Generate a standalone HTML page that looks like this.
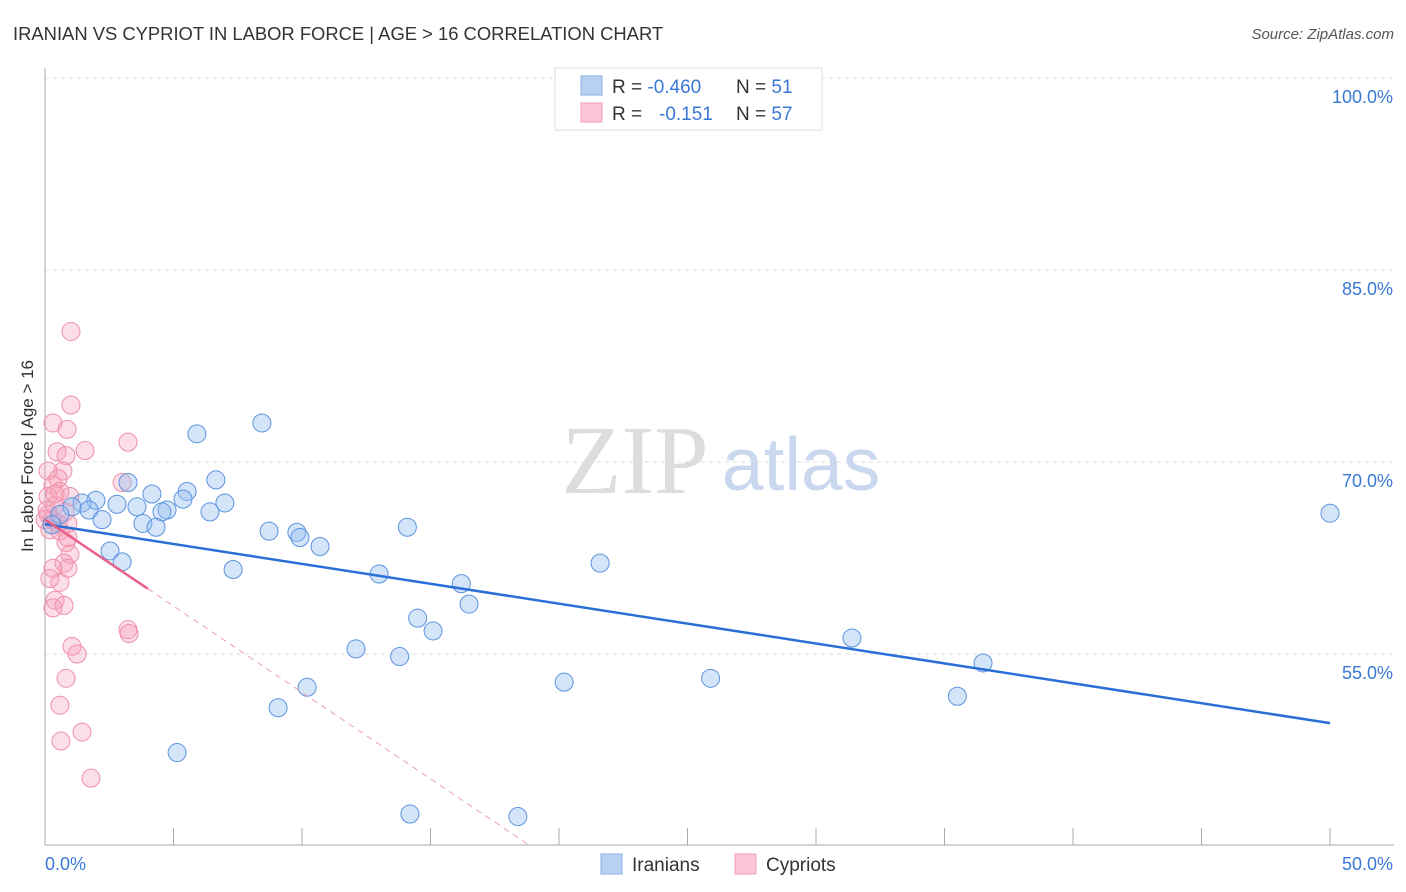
<!DOCTYPE html>
<html><head><meta charset="utf-8"><style>
body{margin:0;background:#fff;font-family:"Liberation Sans",sans-serif}
svg{display:block}
</style></head><body>
<svg id="c" width="1406" height="892">
<text x="13" y="40" font-size="18.4" fill="#333">IRANIAN VS CYPRIOT IN LABOR FORCE | AGE &gt; 16 CORRELATION CHART</text>
<text x="1394" y="39" font-size="15" fill="#555" font-style="italic" text-anchor="end">Source: ZipAtlas.com</text>
<text x="33" y="456" font-size="17" fill="#333" transform="rotate(-90 33 456)" text-anchor="middle">In Labor Force | Age &gt; 16</text>
<text x="635" y="493" font-size="98" fill="#ddd" font-family="Liberation Serif,serif" text-anchor="middle">ZIP</text>
<text x="801" y="490" font-size="75" fill="#c9d8ee" text-anchor="middle">atlas</text>
<g id="grid"></g><g id="pts"></g><g id="lines"></g>
<g>
<rect x="555" y="68" width="267" height="62" fill="#fff" stroke="#ddd"/>
<rect x="581" y="76" width="21" height="19" fill="#b8d1f3" stroke="#8ab0e6"/>
<rect x="581" y="103" width="21" height="19" fill="#fbc6d5" stroke="#f0a0b8"/>
<text x="612" y="93" font-size="19" fill="#333">R = <tspan fill="#3a78d6">-0.460</tspan><tspan x="736">N = </tspan><tspan fill="#3a78d6">51</tspan></text>
<text x="612" y="120" font-size="19" fill="#333">R = <tspan x="659" fill="#3a78d6">-0.151</tspan><tspan x="736">N = </tspan><tspan fill="#3a78d6">57</tspan></text>
</g>
<g>
<rect x="601" y="854" width="21" height="20" fill="#b8d1f3" stroke="#8ab0e6"/>
<text x="632" y="871" font-size="19" fill="#333">Iranians</text>
<rect x="735" y="854" width="21" height="20" fill="#fbc6d5" stroke="#f0a0b8"/>
<text x="766" y="871" font-size="19" fill="#333">Cypriots</text>
</g>
</svg>
<script>
const yTicks=[100,85,70,55];
const xTickLabels=["0.0%","50.0%"];
const blueX=[50,8.44,5.91,6.65,3.23,4.16,5.53,5.37,7.0,6.42,4.75,4.55,3.58,2.8,1.98,1.44,1.05,1.71,2.22,3.81,4.32,0.58,0.27,2.53,3.0,8.72,9.8,9.92,10.7,7.32,14.1,13.0,16.2,16.5,14.5,15.1,12.1,13.8,21.6,20.2,25.9,31.4,36.5,35.5,10.2,9.07,5.14,14.2,18.4];
const blueY=[66.0,73.05,72.2,68.6,68.4,67.5,67.7,67.1,66.8,66.1,66.25,66.1,66.5,66.7,67.0,66.8,66.5,66.25,65.5,65.2,64.9,65.9,65.1,63.05,62.2,64.6,64.5,64.1,63.4,61.6,64.9,61.25,60.5,58.9,57.8,56.8,55.4,54.8,62.1,52.8,53.1,56.25,54.3,51.7,52.4,50.8,47.3,42.5,42.3];
const pinkX=[1.01,1.01,0.31,0.86,3.23,1.56,0.47,0.82,0.7,0.12,0.51,3.0,0.31,0.58,0.97,0.12,0.39,0.78,0.12,0.27,0.51,0.89,0.19,0.58,0.89,0.82,0.97,0.74,0.89,0.31,0.58,0.19,0.39,0.74,0.31,3.23,3.27,1.05,1.25,0.82,0.58,1.44,0.62,1.79,0.08,0.39,0];
const pinkY=[80.2,74.45,73.05,72.55,71.55,70.9,70.8,70.5,69.3,69.3,68.7,68.4,68.2,67.7,67.3,67.3,66.6,66.1,65.9,65.5,65.2,65.2,64.7,64.6,64.1,63.7,62.8,62.1,61.7,61.7,60.6,60.9,59.2,58.8,58.6,56.9,56.6,55.6,55.0,53.1,51.0,48.9,48.2,45.3,66.25,67.5,65.5];
const blueTrend=[65.15,49.6];
const pinkTrend=[65.5,-1.35];
const sx=v=>45+v/50*1285, sy=v=>78+(100-v)/15*192;
const NS="http://www.w3.org/2000/svg";
function mk(t,a,p){const e=document.createElementNS(NS,t);for(const k in a)e.setAttribute(k,a[k]);p.appendChild(e);return e;}
const g=document.getElementById('grid');
yTicks.forEach(v=>{
 const l=mk('line',{x1:45,x2:1394,y1:sy(v),y2:sy(v),stroke:'#ddd','stroke-dasharray':'4 4'},g);
 
 
 const t=mk('text',{x:1393,y:sy(v)+25,'font-size':18,fill:'#3a78d6','text-anchor':'end'},g);
 t.textContent=v.toFixed(1)+'%';
 
 
});
mk('line',{x1:45,x2:45,y1:68,y2:845,stroke:'#aaa'},g);
mk('line',{x1:45,x2:1394,y1:845,y2:845,stroke:'#aaa'},g);
for(let i=0;i<=10;i++){const x=sx(i*5);const tk=mk('line',{x1:x,x2:x,y1:828,y2:845,stroke:'#aaa'},g);
 
 }
xTickLabels.forEach((s,i)=>{const t=mk('text',{x:i?1393:45,y:870,'font-size':18,fill:'#3a78d6','text-anchor':i?'end':'start'},g);t.textContent=s;
 
 });
const P=document.getElementById('pts');
pinkX.forEach((x,i)=>{const c=mk('circle',{cx:sx(x),cy:sy(pinkY[i]),r:9,fill:'rgba(246,160,186,0.35)',stroke:'#ee8fab','stroke-width':1},P);
 
 });
blueX.forEach((x,i)=>{const c=mk('circle',{cx:sx(x),cy:sy(blueY[i]),r:9,fill:'rgba(150,190,240,0.4)',stroke:'#5b93df','stroke-width':1},P);
 
 });
const L=document.getElementById('lines');
const bl=mk('line',{x1:sx(0),y1:sy(blueTrend[0]),x2:sx(50),y2:sy(blueTrend[1]),stroke:'#2a6fd6','stroke-width':2.5},L);


const pe=(40.1-pinkTrend[0])/pinkTrend[1];
const pl=mk('line',{x1:sx(0),y1:sy(pinkTrend[0]),x2:sx(4),y2:sy(pinkTrend[0]+4*pinkTrend[1]),stroke:'#e8608a','stroke-width':2.5},L);


const pd=mk('line',{x1:sx(4),y1:sy(pinkTrend[0]+4*pinkTrend[1]),x2:sx(pe),y2:sy(40.1),stroke:'#e8a0b4','stroke-width':1,'stroke-dasharray':'6 5'},L);


</script>
</body></html>
